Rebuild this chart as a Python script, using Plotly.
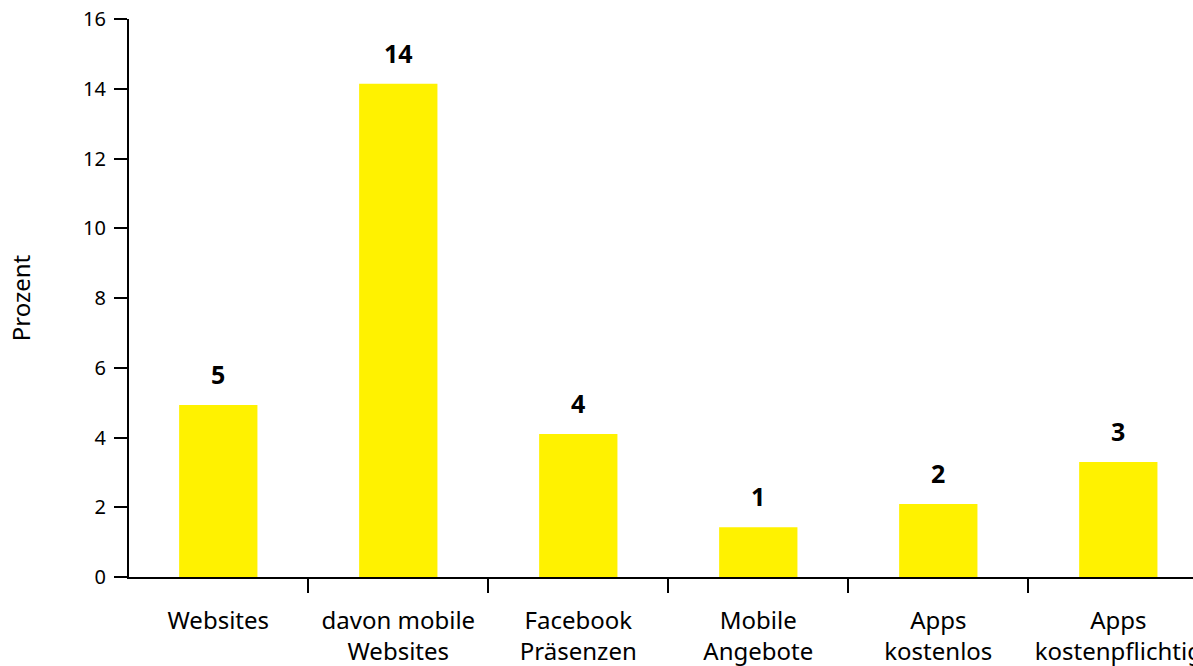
import plotly.graph_objects as go

categories = ["Websites", "davon mobile<br>Websites", "Facebook<br>Präsenzen",
              "Mobile<br>Angebote", "Apps<br>kostenlos", "Apps<br>kostenpflichtig"]
values = [4.93, 14.14, 4.10, 1.43, 2.09, 3.30]
y_ticks = [0, 2, 4, 6, 8, 10, 12, 14, 16]

FONT = "Noto Sans"
BAR_COLOR = "#FFF200"

fig = go.Figure(go.Bar(
    x=categories, y=values,
    marker=dict(color=BAR_COLOR, line=dict(width=0)),
    width=0.435,
))

# value labels above each bar, rounded to whole percent
for c, v in zip(categories, values):
    fig.add_annotation(
        x=c, y=v, text=f"<b>{v:.0f}</b>", showarrow=False,
        yanchor="bottom", yshift=12,
        font=dict(family=FONT, size=25, color="#000000"),
    )

fig.update_layout(
    width=1193, height=666,
    margin=dict(l=129, r=0, t=19, b=89),
    plot_bgcolor="white", paper_bgcolor="white",
    showlegend=False,
    font=dict(family=FONT, size=20, color="#000000"),
)

fig.update_xaxes(
    range=[-0.496, 5.415],
    automargin=False,
    showline=True, linecolor="#000000", linewidth=2,
    ticks="outside", tickson="boundaries", ticklen=14, tickwidth=2, tickcolor="#000000",
    tickfont=dict(family=FONT, size=24),
    ticklabelstandoff=21,
    showgrid=False, zeroline=False,
)
fig.update_yaxes(
    range=[0, 16], tickvals=y_ticks,
    showline=True, linecolor="#000000", linewidth=2,
    ticks="outside", ticklen=13, tickwidth=2, tickcolor="#000000",
    tickfont=dict(family=FONT, size=20),
    ticklabelstandoff=4,
    showgrid=False, zeroline=False,
    title=dict(text="Prozent", font=dict(family=FONT, size=24), standoff=46),
)

fig.write_html("out.html")
